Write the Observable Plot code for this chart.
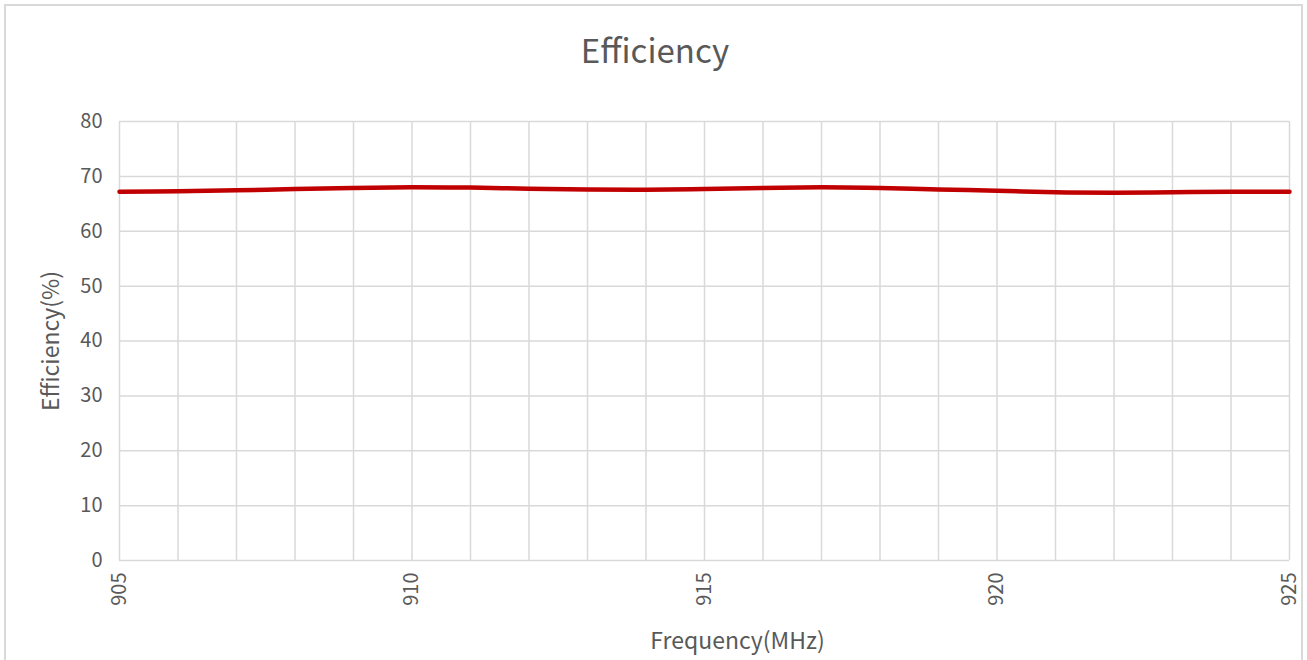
<!DOCTYPE html>
<html>
<head>
<meta charset="utf-8">
<script src="https://cdn.jsdelivr.net/npm/d3@7"></script>
<script src="https://cdn.jsdelivr.net/npm/@observablehq/plot@0.6"></script>
<style>
  html, body { margin: 0; padding: 0; background: #fff; }
  #wrap { position: relative; width: 1307px; height: 660px; overflow: hidden; font-family: "Noto Sans CJK JP", "Noto Sans", sans-serif; }
  #frame { position: absolute; left: 4px; top: 4px; width: 1299px; height: 700px; border: 2px solid #d9d9d9; box-sizing: border-box; }
  #title { position: absolute; left: 0; top: 25px; width: 1310px; text-align: center; font-size: 33px; color: #595959; }
  #chart { position: absolute; left: 0; top: 0; }
</style>
</head>
<body>
<div id="wrap">
  <div id="frame"></div>
  <div id="chart"></div>
  <div id="title">Efficiency</div>
</div>
<script>
const frequencies = [905, 906, 907, 908, 909, 910, 911, 912, 913, 914, 915, 916, 917, 918, 919, 920, 921, 922, 923, 924, 925];
const efficiency = [67.2, 67.3, 67.45, 67.7, 67.9, 68.0, 67.95, 67.75, 67.6, 67.55, 67.7, 67.9, 68.0, 67.9, 67.6, 67.4, 67.1, 67.0, 67.1, 67.2, 67.2];
const xGridTicks = d3.range(905, 926, 1);
const xLabelTicks = [905, 910, 915, 920, 925];
const yTicks = [0, 10, 20, 30, 40, 50, 60, 70, 80];
const xTitle = "Frequency(MHz)";
const yTitle = "Efficiency(%)";

const data = frequencies.map((f, i) => ({f, e: efficiency[i]}));
const gray = "#595959";
const gridColor = "#d9d9d9";
const font = '"Noto Sans CJK JP", "Noto Sans", sans-serif';

const plot = Plot.plot({
  width: 1307,
  height: 660,
  marginTop: 121,
  marginBottom: 100,
  marginLeft: 119,
  marginRight: 18,
  style: {fontFamily: font, color: gray, background: "transparent", overflow: "visible"},
  x: {domain: [905, 925]},
  y: {domain: [0, 80]},
  marks: [
    Plot.gridX(xGridTicks, {stroke: gridColor, strokeOpacity: 1, strokeWidth: 1.5}),
    Plot.gridY(yTicks, {stroke: gridColor, strokeOpacity: 1, strokeWidth: 1.5}),
    Plot.axisY(yTicks, {tickSize: 0, tickPadding: 17, fontSize: 20, fill: gray, label: null}),
    Plot.axisX(xLabelTicks, {tickSize: 0, tickPadding: 12, tickRotate: -90, fontSize: 20, fill: gray, label: null}),
    Plot.text([xTitle], {frameAnchor: "bottom", dx: 33, dy: 88, fontSize: 23, fill: gray}),
    Plot.text([yTitle], {frameAnchor: "left", textAnchor: "middle", dx: -68, rotate: -90, fontSize: 23, fill: gray}),
    Plot.line(data, {x: "f", y: "e", stroke: "#c00000", strokeWidth: 4.5, curve: "catmull-rom"})
  ]
});
document.getElementById("chart").appendChild(plot);
</script>
</body>
</html>
